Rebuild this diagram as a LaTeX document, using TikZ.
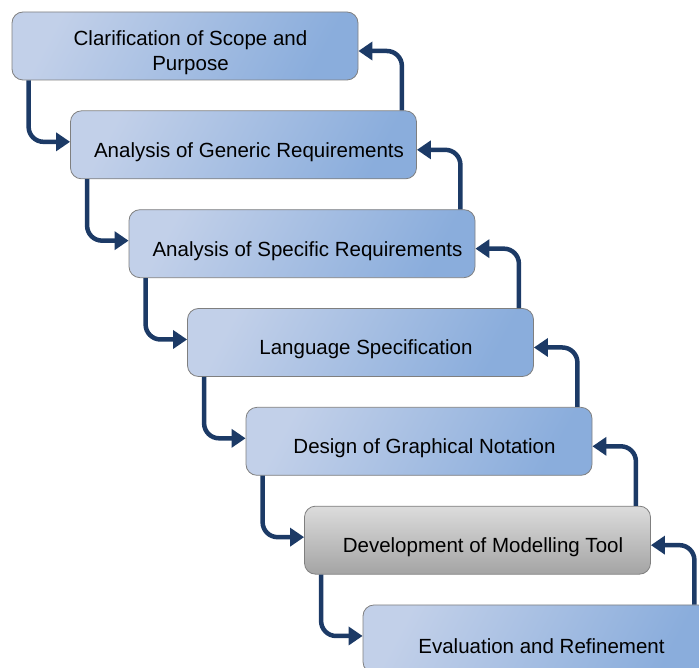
\documentclass[tikz,border=0pt]{standalone}
\usepackage{fontspec}
\setmainfont{Liberation Sans}
\usetikzlibrary{arrows.meta}
\definecolor{stepL}{HTML}{C2D0E9}
\definecolor{stepR}{HTML}{8AADDC}
\definecolor{toolT}{HTML}{DCDCDC}
\definecolor{toolB}{HTML}{A4A4A4}
\definecolor{rim}{HTML}{7F7F7F}
\definecolor{navy}{HTML}{1C3A66}
\tikzset{
  box/.style={draw=rim, line width=0.8pt, rounded corners=11pt, minimum width=346pt, minimum height=68pt,
    align=center, font=\fontsize{20.5}{25}\selectfont,
    execute at begin node={\rule{0pt}{29pt}\hspace*{11pt}}},
  phase/.style={box, shading=axis, top color=stepL, bottom color=stepR, shading angle=62},
  lead/.style={phase, inner ysep=1pt},
  tool/.style={box, top color=toolT, bottom color=toolB},
  flow/.style={draw=navy, line width=4.5pt, rounded corners=15pt, -{Triangle[length=14pt,width=18pt]}},
}
\begin{document}
\begin{tikzpicture}[x=1pt,y=1pt]
  \useasboundingbox (0,0) rectangle (699,-668);
  \clip (0,0) rectangle (699,-668);
  \foreach \n/\s/\txt in {1/lead/{\rule{0pt}{45pt}\begin{tabular}{@{}c@{}}Clarification of Scope and\\Purpose\end{tabular}},
      2/phase/{Analysis of Generic Requirements},
      3/phase/{Analysis of Specific Requirements},
      4/phase/{Language Specification},
      5/phase/{Design of Graphical Notation},
      6/tool/{Development of Modelling Tool},
      7/phase/{Evaluation and Refinement}}
    \node[\s] (b\n) at ({185+58.5*(\n-1)},{-46-98.83*(\n-1)}) {\txt};
  % down to the next phase, back up to the previous one
  \foreach \a/\b in {b1/b2,b2/b3,b3/b4,b4/b5,b5/b6,b6/b7} {
    \draw[flow] ([xshift=17pt]\a.south west) |- ([yshift=3pt]\b.west);
    \draw[flow] ([xshift=-15pt]\b.north east) |- ([yshift=-5pt]\a.east);
  }
\end{tikzpicture}
\end{document}
